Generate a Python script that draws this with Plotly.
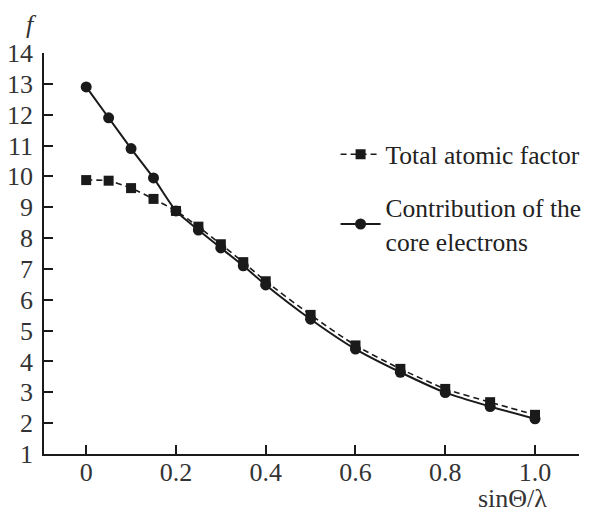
import plotly.graph_objects as go

x_vals = [0.0, 0.05, 0.1, 0.15, 0.2, 0.25, 0.3, 0.35, 0.4, 0.5, 0.6, 0.7, 0.8, 0.9, 1.0]
total_factor = [9.88, 9.86, 9.62, 9.27, 8.88, 8.37, 7.8, 7.22, 6.6, 5.51, 4.52, 3.76, 3.11, 2.68, 2.27]
core_electrons = [12.9, 11.9, 10.9, 9.95, 8.88, 8.26, 7.68, 7.1, 6.48, 5.37, 4.4, 3.65, 2.99, 2.54, 2.14]
x_ticks = [0, 0.2, 0.4, 0.6, 0.8, 1.0]
x_tick_labels = ["0", "0.2", "0.4", "0.6", "0.8", "1.0"]
y_ticks = list(range(1, 15))

FONT = "Liberation Serif"
INK = "#1a1a1a"
TXT = "#333"

fig = go.Figure()
fig.add_trace(go.Scatter(
    x=x_vals, y=total_factor, mode="lines+markers",
    name="Total atomic factor", legendgroup="a",
    line=dict(color=INK, width=1.6, dash="6px,4px", shape="spline", smoothing=0.6),
    marker=dict(symbol="square", size=10, color=INK),
))
fig.add_trace(go.Scatter(
    x=x_vals, y=core_electrons, mode="lines+markers",
    name="Contribution of the<br>core electrons", legendgroup="b",
    line=dict(color=INK, width=2, shape="spline", smoothing=0.6),
    marker=dict(symbol="circle", size=11, color=INK),
))

# the page body adds an 8px offset, so the figure is 8px smaller than the window
fig.update_layout(
    width=588, height=504,
    margin=dict(l=36, r=17, t=45, b=58, autoexpand=False),
    paper_bgcolor="white", plot_bgcolor="white",
    font=dict(family=FONT, size=26, color=TXT),
    showlegend=True,
    legend=dict(
        x=0.545, y=0.805, xanchor="left", yanchor="top",
        font=dict(family=FONT, size=25.5, color="#222"),
        bgcolor="rgba(0,0,0,0)", traceorder="grouped", tracegroupgap=17,
        itemwidth=40, borderwidth=0,
    ),
    xaxis=dict(
        range=[-0.094, 1.098], tickvals=x_ticks, ticktext=x_tick_labels,
        ticks="inside", ticklen=9, tickwidth=1.5, tickcolor=INK,
        showline=True, linecolor=INK, linewidth=1.5, showgrid=False, zeroline=False,
        tickfont=dict(family=FONT, size=26, color=TXT), automargin=False,
        ticklabelstandoff=-6,
    ),
    yaxis=dict(
        range=[1, 14], tickvals=y_ticks,
        ticks="inside", ticklen=9, tickwidth=1.5, tickcolor=INK,
        showline=True, linecolor=INK, linewidth=1.5, showgrid=False, zeroline=False,
        tickfont=dict(family=FONT, size=26, color=TXT), automargin=False,
        ticklabelstandoff=4,
    ),
    annotations=[
        dict(text="<i>f</i>", xref="paper", yref="paper", x=-0.024, y=1.0, yshift=29,
             xanchor="center", yanchor="middle",
             showarrow=False, font=dict(family=FONT, size=26, color=TXT)),
        dict(text="sinΘ/λ", xref="paper", yref="paper", x=0.875, y=0, yshift=-44,
             xanchor="center", yanchor="middle",
             showarrow=False, font=dict(family=FONT, size=26, color=TXT)),
    ],
)

fig.write_html("out.html")
